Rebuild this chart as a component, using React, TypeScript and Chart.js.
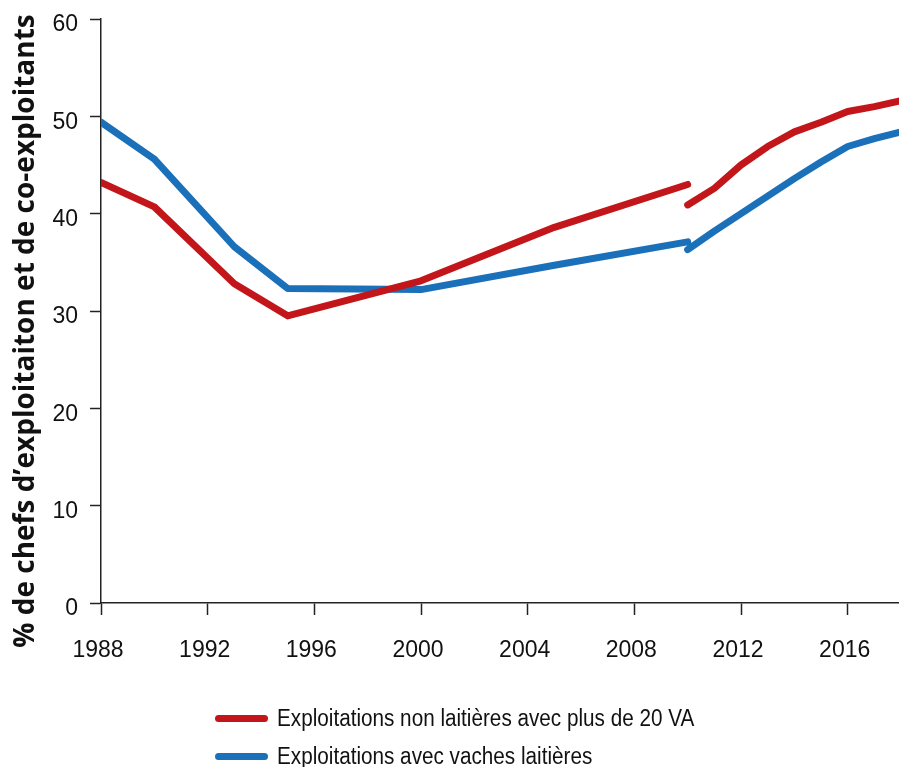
import { useEffect, useRef } from 'react';
import { Chart, registerables } from 'chart.js';

Chart.register(...registerables);

const seriesLabels = [
  'Exploitations non laitières avec plus de 20 VA',
  'Exploitations avec vaches laitières',
];
const seriesColors = ['#C2161B', '#1B70BA'];
const yAxisTitle = '% de chefs d’exploitaiton et de co-exploitants';

const yearsBefore = [1988, 1990, 1993, 1995, 2000, 2005, 2010];
const yearsAfter = [2010, 2011, 2012, 2013, 2014, 2015, 2016, 2017, 2018];

const redBefore = [43.2, 40.7, 32.8, 29.5, 33.1, 38.6, 43.0];
const redAfter = [40.9, 42.6, 45.0, 46.9, 48.4, 49.4, 50.5, 51.0, 51.6];
const blueBefore = [49.4, 45.6, 36.6, 32.3, 32.2, 34.7, 37.1];
const blueAfter = [36.3, 38.2, 40.0, 41.8, 43.6, 45.3, 46.9, 47.7, 48.4];

const xTicks = [1988, 1992, 1996, 2000, 2004, 2008, 2012, 2016];
const yTicks = [0, 10, 20, 30, 40, 50, 60];

function buildData(before: number[], after: number[]) {
  const pts: { x: number; y: number | null }[] = [];
  yearsBefore.forEach((yr, i) => pts.push({ x: yr, y: before[i] }));
  pts.push({ x: yearsBefore[yearsBefore.length - 1], y: null });
  yearsAfter.forEach((yr, i) => pts.push({ x: yr, y: after[i] }));
  return pts;
}

const yTitlePlugin = {
  id: 'yTitlePlugin',
  afterDraw(chart: any) {
    const ctx = chart.ctx;
    ctx.save();
    ctx.translate(34, 331);
    ctx.rotate(-Math.PI / 2);
    ctx.font = 'bold 28px "Open Sans"';
    ctx.fillStyle = '#111';
    ctx.textAlign = 'center';
    ctx.textBaseline = 'alphabetic';
    ctx.fillText(yAxisTitle, 0, 0);
    ctx.restore();
  },
};

export default function App() {
  const canvasRef = useRef<HTMLCanvasElement | null>(null);

  useEffect(() => {
    if (!canvasRef.current) return;
    const chart = new Chart(canvasRef.current, {
      type: 'line',
      data: {
        datasets: [
          {
            label: seriesLabels[0],
            data: buildData(redBefore, redAfter),
            borderColor: seriesColors[0],
            backgroundColor: seriesColors[0],
            borderWidth: 7,
            borderCapStyle: 'round',
            borderJoinStyle: 'round',
            pointRadius: 0,
            spanGaps: false,
            tension: 0,
          },
          {
            label: seriesLabels[1],
            data: buildData(blueBefore, blueAfter),
            borderColor: seriesColors[1],
            backgroundColor: seriesColors[1],
            borderWidth: 7,
            borderCapStyle: 'round',
            borderJoinStyle: 'round',
            pointRadius: 0,
            spanGaps: false,
            tension: 0,
          },
        ],
      },
      options: {
        responsive: false,
        animation: false,
        layout: { padding: { top: 19, bottom: 104, left: 0, right: 0 } },
        plugins: {
          legend: { display: false },
          tooltip: { enabled: false },
        },
        scales: {
          x: {
            type: 'linear',
            min: 1988,
            max: 2018,
            afterBuildTicks: (scale: any) => {
              scale.ticks = xTicks.map((v) => ({ value: v }));
            },
            afterFit: (scale: any) => {
              scale.height = 60;
              scale.paddingLeft = 0;
              scale.paddingRight = 0;
            },
            grid: {
              drawOnChartArea: false,
              drawTicks: true,
              tickLength: 12,
              tickWidth: 1.5,
              tickColor: '#222',
            },
            border: { display: true, color: '#222', width: 1.5 },
            ticks: {
              color: '#111',
              font: { family: '"Liberation Sans", Arial', size: 23 },
              padding: 22,
              labelOffset: -3,
              maxRotation: 0,
              autoSkip: false,
              callback: (v: any) => String(v),
            },
          },
          y: {
            type: 'linear',
            min: 0,
            max: 60,
            afterBuildTicks: (scale: any) => {
              scale.ticks = yTicks.map((v) => ({ value: v }));
            },
            afterFit: (scale: any) => {
              scale.width = 101;
              scale.paddingTop = 0;
              scale.paddingBottom = 0;
            },
            grid: {
              drawOnChartArea: false,
              drawTicks: true,
              tickLength: 11,
              tickWidth: 1.5,
              tickColor: '#222',
            },
            border: { display: true, color: '#222', width: 1.5 },
            ticks: {
              color: '#111',
              font: { family: '"Liberation Sans", Arial', size: 23 },
              padding: 12,
              labelOffset: 6,
              autoSkip: false,
            },
          },
        },
      },
      plugins: [yTitlePlugin],
    } as any);
    return () => chart.destroy();
  }, []);

  const legendRows = [718, 756];

  return (
    <div style={{ position: 'absolute', left: 0, top: 0, width: 899, height: 767, overflow: 'hidden', background: '#fff' }}>
      <canvas ref={canvasRef} width={901} height={767} style={{ position: 'absolute', left: 0, top: 0 }} />
      {seriesLabels.map((lbl, i) => (
        <div key={lbl}>
          <div
            style={{
              position: 'absolute',
              left: 215,
              top: legendRows[i] - 3.5,
              width: 53,
              height: 7,
              borderRadius: 3.5,
              background: seriesColors[i],
            }}
          />
          <div
            style={{
              position: 'absolute',
              left: 277,
              top: legendRows[i] - 14,
              height: 28,
              lineHeight: '28px',
              fontFamily: '"Liberation Sans", Arial',
              fontSize: 23,
              color: '#111',
              whiteSpace: 'nowrap',
              transform: 'scaleX(0.9)',
              transformOrigin: 'left center',
            }}
          >
            {lbl}
          </div>
        </div>
      ))}
    </div>
  );
}
